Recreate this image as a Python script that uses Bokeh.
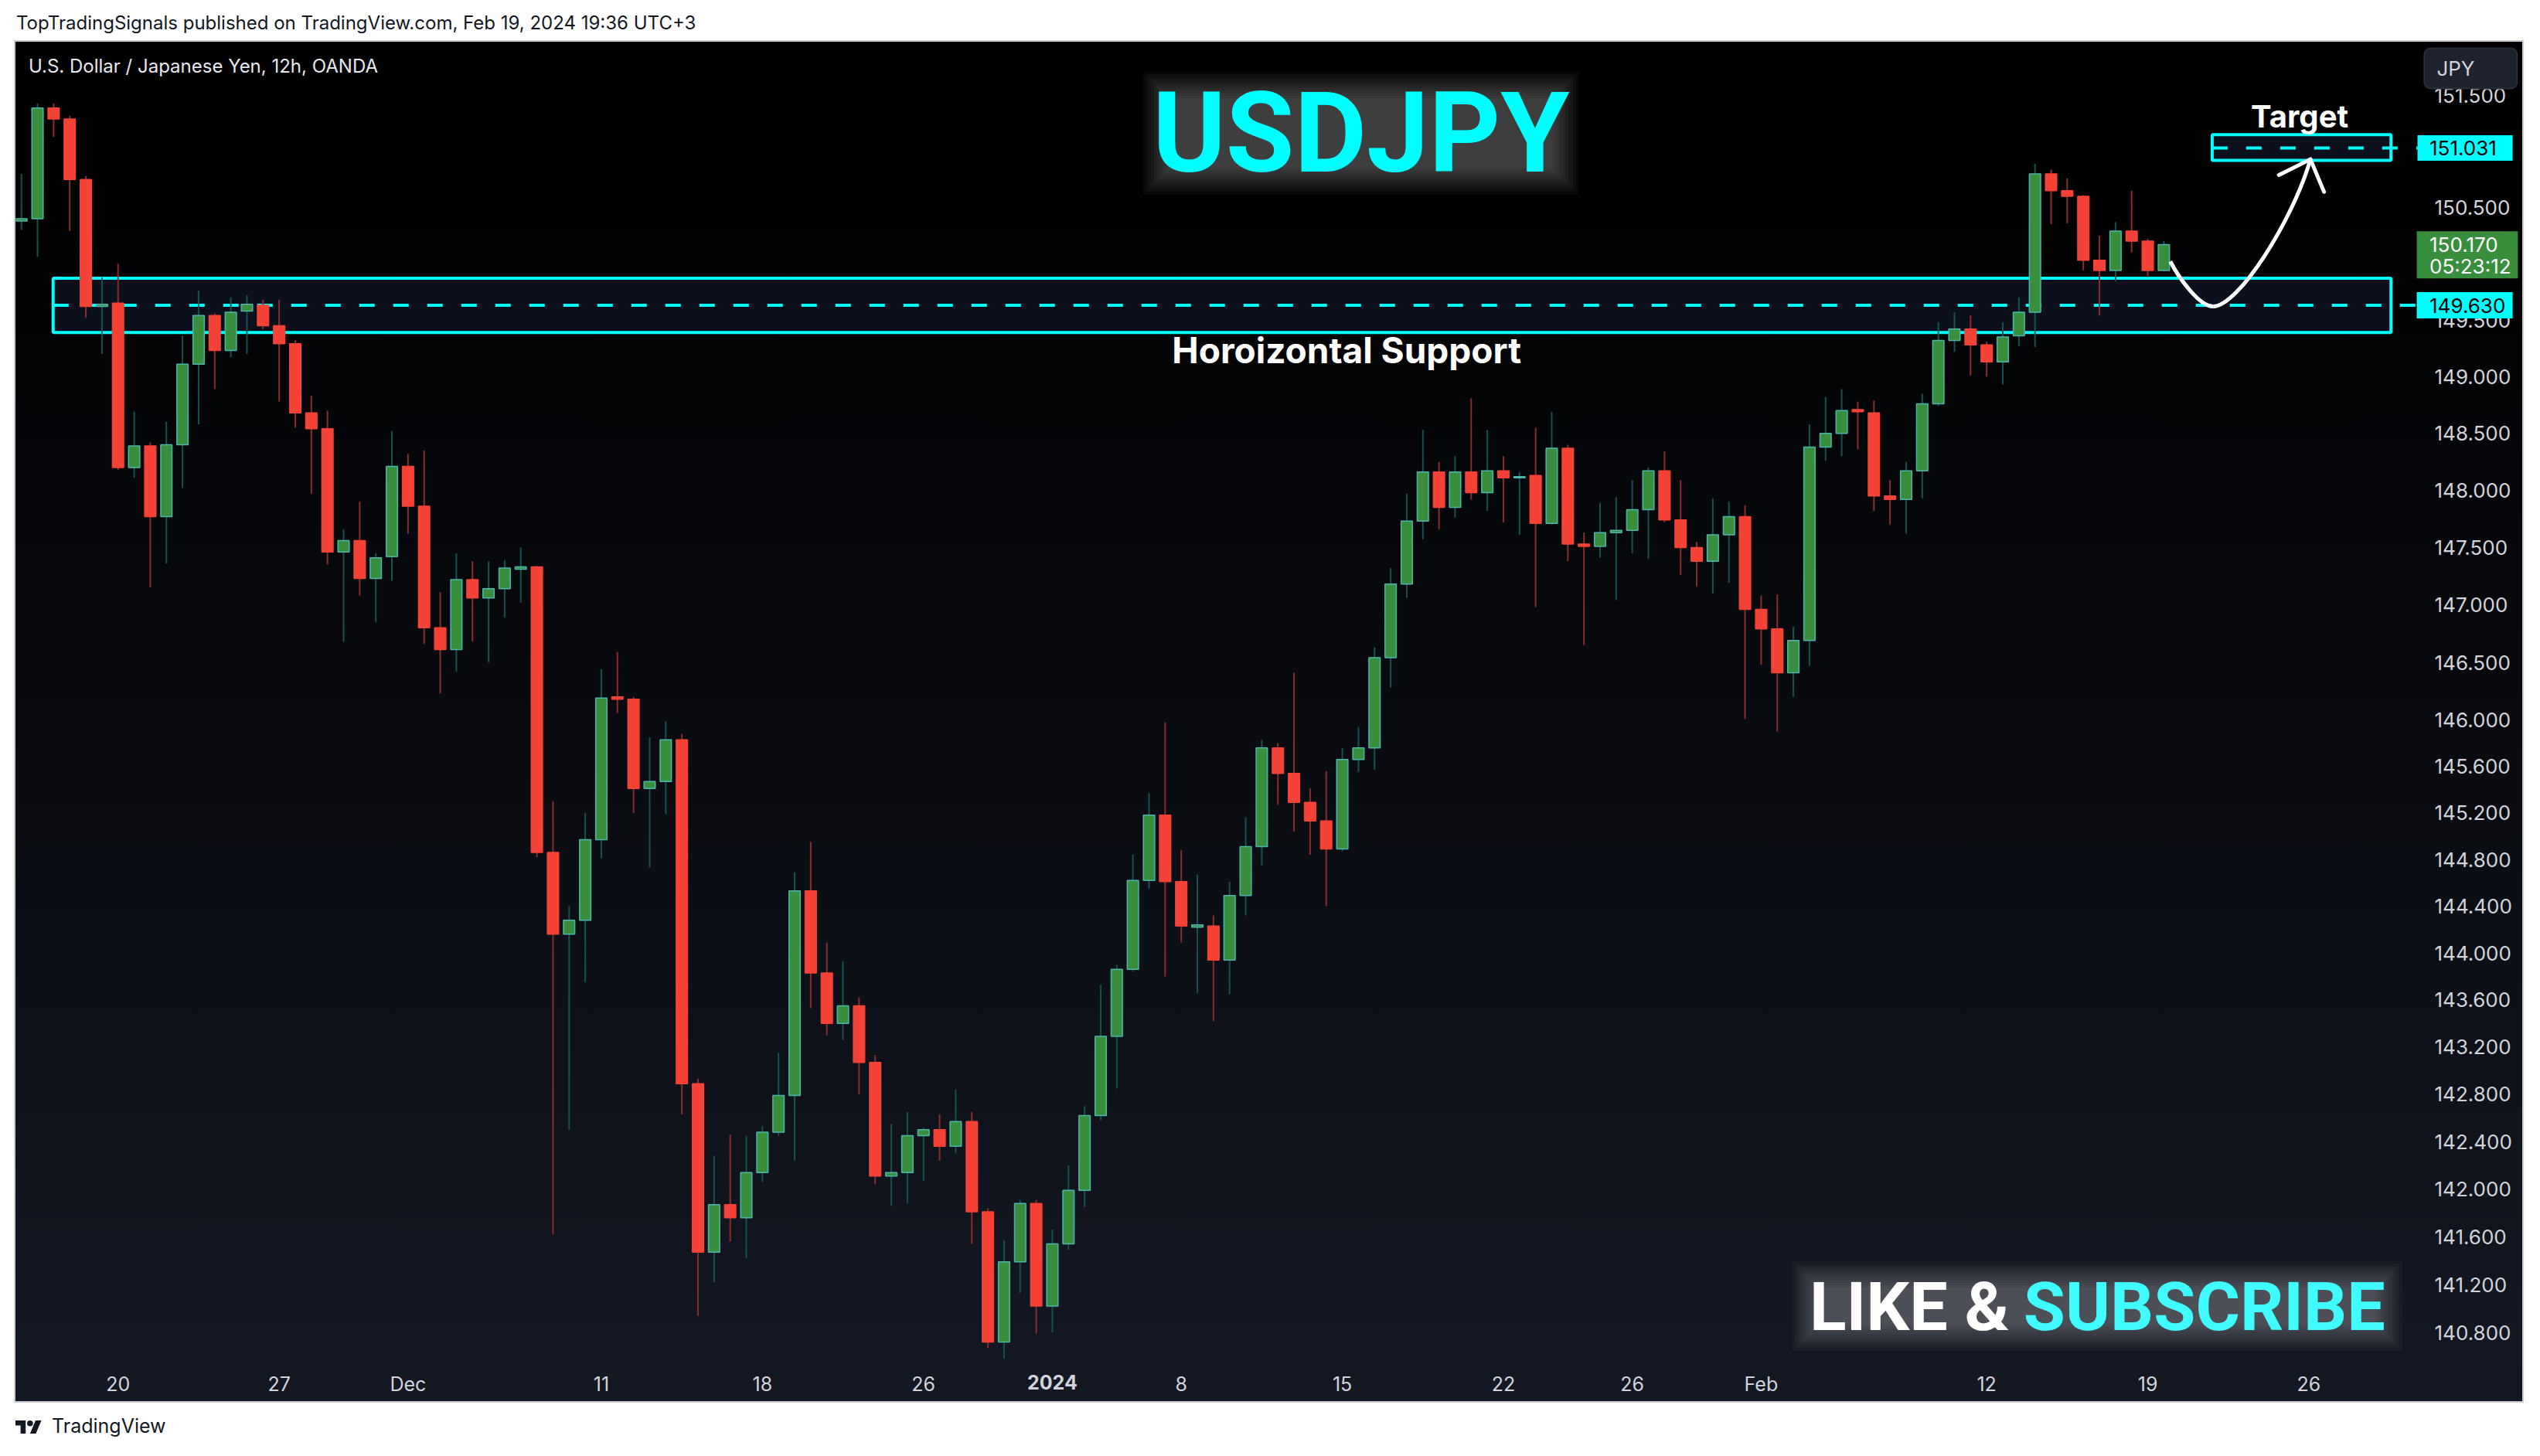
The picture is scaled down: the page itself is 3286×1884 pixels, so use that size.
import math
from bokeh.plotting import figure
from bokeh.models import Range1d, FixedTicker, PrintfTickFormatter, Div, ColumnDataSource
from bokeh.layouts import column
from bokeh.embed import file_html
from bokeh.resources import INLINE
from bokeh.core.properties import value

# ---------------- data (USDJPY, 12h candles, OANDA) ----------------
opens = [150.38, 150.40, 151.39, 151.29, 150.75, 149.62, 149.65, 148.20, 148.39, 147.77,
         148.40, 149.11, 149.54, 149.23, 149.58, 149.63, 149.45, 149.29, 148.68, 148.54,
         147.46, 147.56, 147.23, 147.42, 148.21, 147.86, 146.80, 146.61, 147.22, 147.06,
         147.14, 147.31, 147.33, 144.86, 144.16, 144.28, 144.97, 146.20, 146.18, 145.41,
         145.47, 145.83, 142.89, 141.47, 141.87, 141.76, 142.14, 142.48, 142.79, 144.53,
         143.83, 143.40, 143.55, 143.07, 142.11, 142.14, 142.45, 142.50, 142.36, 142.57,
         141.81, 140.72, 141.39, 141.88, 141.02, 141.54, 141.99, 142.62, 143.29, 143.86,
         144.62, 145.18, 144.61, 144.22, 144.23, 143.94, 144.49, 144.91, 145.76, 145.54,
         145.29, 145.13, 144.89, 145.66, 145.76, 146.54, 147.18, 147.73, 148.16, 147.85,
         148.16, 147.98, 148.17, 148.11, 148.13, 147.71, 148.37, 147.53, 147.51, 147.63,
         147.65, 147.83, 148.17, 147.74, 147.50, 147.38, 147.61, 147.77, 146.96, 146.79,
         146.41, 146.69, 148.38, 148.50, 148.71, 148.68, 147.95, 147.92, 148.17, 148.76,
         149.32, 149.42, 149.28, 149.13, 149.36, 149.57, 150.80, 150.65, 150.60, 150.03,
         149.94, 150.29, 150.20, 149.94]
highs = [150.80, 151.43, 151.43, 151.32, 150.78, 149.88, 150.00, 148.69, 148.42, 148.60,
         149.36, 149.76, 149.56, 149.70, 149.72, 149.68, 149.68, 149.32, 148.83, 148.70,
         147.66, 147.90, 147.45, 148.52, 148.32, 148.35, 147.11, 147.45, 147.38, 147.38,
         147.39, 147.50, 147.34, 145.30, 144.40, 145.20, 146.44, 146.59, 146.20, 145.85,
         145.99, 145.88, 142.93, 142.28, 142.46, 142.45, 142.53, 143.15, 144.69, 144.95,
         144.09, 143.93, 143.62, 143.13, 142.55, 142.65, 142.52, 142.63, 142.84, 142.65,
         141.84, 141.57, 141.91, 141.91, 141.66, 142.20, 142.70, 143.73, 143.90, 144.84,
         145.37, 145.98, 144.88, 144.67, 144.32, 144.61, 145.16, 145.83, 145.80, 146.41,
         145.41, 145.56, 145.76, 145.94, 146.63, 147.32, 147.97, 148.53, 148.25, 148.30,
         148.81, 148.53, 148.30, 148.16, 148.55, 148.69, 148.40, 147.63, 147.89, 147.94,
         148.09, 148.20, 148.34, 148.09, 147.55, 147.93, 147.90, 147.87, 147.08, 147.09,
         146.81, 148.58, 148.82, 148.89, 148.78, 148.79, 148.09, 148.25, 148.85, 149.48,
         149.57, 149.54, 149.31, 149.48, 149.70, 150.89, 150.84, 150.76, 150.61, 150.25,
         150.37, 150.65, 150.22, 150.20]
lows = [150.30, 150.06, 151.13, 150.29, 149.52, 149.20, 148.18, 148.11, 147.15, 147.36,
        148.02, 148.58, 148.89, 149.17, 149.20, 149.42, 148.78, 148.55, 147.97, 147.35,
        146.68, 147.08, 146.85, 147.21, 147.62, 146.66, 146.23, 146.42, 146.68, 146.50,
        146.89, 147.02, 144.82, 141.62, 142.50, 143.75, 144.81, 146.06, 145.20, 144.73,
        145.19, 142.63, 140.94, 141.22, 141.56, 141.42, 142.06, 142.45, 142.24, 143.53,
        143.30, 143.26, 142.80, 142.04, 141.86, 141.88, 142.07, 142.24, 142.30, 141.54,
        140.67, 140.58, 141.13, 140.79, 140.80, 141.49, 141.85, 142.58, 142.85, 143.84,
        144.55, 143.80, 144.09, 143.66, 143.42, 143.65, 144.32, 144.75, 145.27, 145.04,
        144.84, 144.40, 144.87, 145.55, 145.57, 146.28, 147.06, 147.57, 147.66, 147.76,
        147.92, 147.82, 147.72, 147.61, 146.98, 147.70, 147.38, 146.65, 147.41, 147.04,
        147.45, 147.40, 147.72, 147.26, 147.16, 147.10, 147.19, 146.01, 146.48, 145.90,
        146.20, 146.47, 148.26, 148.30, 148.36, 147.82, 147.70, 147.62, 147.93, 148.74,
        149.22, 149.01, 149.00, 148.93, 149.27, 149.26, 150.35, 150.36, 149.94, 149.54,
        149.84, 150.10, 149.88, 149.93]
closes = [150.40, 151.39, 151.29, 150.75, 149.62, 149.64, 148.20, 148.39, 147.77, 148.40,
          149.11, 149.54, 149.23, 149.57, 149.64, 149.45, 149.29, 148.68, 148.54, 147.46,
          147.56, 147.23, 147.41, 148.21, 147.86, 146.80, 146.61, 147.22, 147.06, 147.14,
          147.32, 147.33, 144.86, 144.16, 144.28, 144.97, 146.19, 146.18, 145.41, 145.47,
          145.83, 142.89, 141.47, 141.87, 141.76, 142.14, 142.48, 142.79, 144.53, 143.83,
          143.40, 143.55, 143.07, 142.11, 142.14, 142.45, 142.50, 142.36, 142.57, 141.81,
          140.72, 141.39, 141.88, 141.02, 141.54, 141.99, 142.62, 143.29, 143.86, 144.62,
          145.18, 144.61, 144.23, 144.24, 143.94, 144.49, 144.91, 145.76, 145.54, 145.29,
          145.13, 144.89, 145.66, 145.76, 146.54, 147.18, 147.73, 148.16, 147.85, 148.16,
          147.98, 148.17, 148.11, 148.12, 147.71, 148.37, 147.53, 147.51, 147.63, 147.65,
          147.83, 148.17, 147.74, 147.50, 147.38, 147.61, 147.77, 146.96, 146.79, 146.41,
          146.69, 148.38, 148.50, 148.70, 148.69, 147.95, 147.92, 148.17, 148.76, 149.32,
          149.42, 149.28, 149.13, 149.35, 149.57, 150.80, 150.65, 150.60, 150.03, 149.94,
          150.29, 150.20, 149.94, 150.17]
candle_idx = list(range(len(opens)))

time_tick_idx = [6, 16, 24, 36, 46, 56, 64, 72, 82, 92, 100, 108, 122, 132, 142]
time_tick_labels = ["20", "27", "Dec", "11", "18", "26", "2024", "8", "15", "22",
                    "26", "Feb", "12", "19", "26"]
price_ticks = [140.8, 141.2, 141.6, 142.0, 142.4, 142.8, 143.2, 143.6, 144.0, 144.4,
               144.8, 145.2, 145.6, 146.0, 146.5, 147.0, 147.5, 148.0, 148.5, 149.0,
               149.5, 150.5, 151.5]

support_level = 149.630
support_band = [149.39, 149.87]
support_span = [1.97, 147.1]
target_level = 151.031
target_band = [150.92, 151.15]
target_span = [136.0, 147.1]
last_price = 150.170
countdown = "05:23:12"

# ---------------- styles / geometry ----------------
CYAN = "#00ffff"
UP_FILL, UP_LINE, UP_WICK = "#388e3c", "#4db6ac", "#14534e"
DN_FILL, DN_LINE, DN_WICK = "#f44336", "#f44336", "#8a2d2d"
AXIS_TXT = "#d1d4dc"
FONT = "Inter"
W, H = 3243, 1759
X0, X1 = -0.3455, 155.27          # candle index range across the panel
Y0, Y1 = 140.225, 151.981         # price range (log scale)
AXIS_X = 148.65                   # where the price scale begins
AXIS_Y = 140.553                  # where the time scale begins
PX_PER_LN = H / math.log(Y1 / Y0)
PX_PER_BAR = W / (X1 - X0)


def shift(price, px):
    """price that sits px pixels above (negative: below) the given price"""
    return price * math.exp(px / PX_PER_LN)


p = figure(width=W, height=H, x_range=Range1d(X0, X1), y_range=Range1d(Y0, Y1),
           y_axis_type="log", y_axis_location="right",
           output_backend="svg", toolbar_location=None, min_border=0,
           background_fill_color=None, border_fill_color=None, outline_line_color=None,
           margin=(0, 0, 0, 20))
p.title.visible = False
p.styles = {"background": "linear-gradient(180deg, #000000 0%, #010102 12%, #141823 100%)",
            "outline": "2px solid #c9ccd3"}
p.xgrid.visible = False
p.ygrid.visible = False

ya = p.yaxis[0]
ya.ticker = FixedTicker(ticks=price_ticks)
ya.formatter = PrintfTickFormatter(format="%.3f")
ya.fixed_location = AXIS_X
xa = p.xaxis[0]
xa.ticker = FixedTicker(ticks=[t for t, lab in zip(time_tick_idx, time_tick_labels) if lab != "2024"])
xa.major_label_overrides = {t: lab for t, lab in zip(time_tick_idx, time_tick_labels) if lab != "2024"}
xa.fixed_location = AXIS_Y
for ax in (ya, xa):
    ax.axis_line_color = None
    ax.major_tick_line_color = None
    ax.minor_tick_line_color = None
    ax.major_label_text_color = AXIS_TXT
    ax.major_label_text_font = FONT
ya.major_label_text_font_size = "26px"
xa.major_label_text_font_size = "25px"
ya.major_label_standoff = 18
xa.major_label_standoff = 8


# soft glow behind the headline texts (stacked translucent boxes)
def glow(left, right, bottom, top, color, inset=8, steps=11, step_px=3.5, alpha=0.028):
    for k in range(steps):
        d = k * step_px - inset
        p.quad(left=[left - d / PX_PER_BAR], right=[right + d / PX_PER_BAR],
               bottom=[shift(bottom, -d)], top=[shift(top, d)],
               fill_color=color, fill_alpha=alpha, line_color=None)


glow(70.9, 95.4, 150.80, 151.53, "#ffffff")
glow(111.2, 146.5, 140.82, 141.22, "#ffffff")

# support zone & target zone
p.quad(left=[support_span[0]], right=[support_span[1]], bottom=[support_band[0]], top=[support_band[1]],
       fill_color="#0b101c", line_color=CYAN, line_width=4)
p.quad(left=[target_span[0]], right=[target_span[1]], bottom=[target_band[0]], top=[target_band[1]],
       fill_color="#0b101c", line_color=CYAN, line_width=4)
p.segment(x0=[support_span[0], target_span[0]], x1=[AXIS_X + 0.1, AXIS_X + 0.1],
          y0=[support_level, target_level], y1=[support_level, target_level],
          line_color=CYAN, line_width=4, line_dash="20 24")

# candles
up = [c >= o for o, c in zip(opens, closes)]
src = ColumnDataSource(dict(
    x=candle_idx, high=highs, low=lows,
    top=[max(o, c) for o, c in zip(opens, closes)],
    bottom=[min(o, c) for o, c in zip(opens, closes)],
    fill=[UP_FILL if u else DN_FILL for u in up],
    line=[UP_LINE if u else DN_LINE for u in up],
    wick=[UP_WICK if u else DN_WICK for u in up],
))
p.segment(x0="x", y0="low", x1="x", y1="high", line_color="wick", line_width=2, source=src)
p.vbar(x="x", width=0.70, top="top", bottom="bottom", fill_color="fill", line_color="line",
       line_width=1.5, source=src)

# projected path arrow
p.bezier(x0=[133.4, 136.06], y0=[150.02, 149.62], x1=[136.06, 142.1], y1=[149.62, 150.93],
         cx0=[133.9, 137.6], cy0=[149.88, 149.62], cx1=[135.2, 141.0], cy1=[149.62, 150.38],
         line_color="white", line_width=5)
p.segment(x0=[142.1, 142.1], y0=[150.93, 150.93], x1=[140.14, 142.94], y1=[150.79, 150.64],
          line_color="white", line_width=5, line_cap="round")


def txt(x, y, s, size, color, font=FONT, bold=False, align="left", level="glyph"):
    p.text(x=[x], y=[y], text=[s], text_font=value(font), text_font_size=size,
           text_font_style="bold" if bold else "normal", text_color=color,
           text_align=align, text_baseline="middle", level=level)


txt(0.446, 151.763, "U.S. Dollar / Japanese Yen, 12h, OANDA", "24px", "#e6e8ee")
txt(83.16, 151.164, "USDJPY", "144px", CYAN, font="Roboto", bold=True, align="center")
txt(82.27, 149.234, "Horoizontal Support", "46px", "white", bold=True, align="center")
txt(141.43, 151.317, "Target", "40px", "white", bold=True, align="center")
txt(111.0, 141.018, "LIKE &", "88px", "white", font="Roboto", bold=True)
txt(146.74, 141.018, "SUBSCRIBE", "88px", "#40fbff", font="Roboto", bold=True, align="right")


# price-scale tags (drawn above the scale labels)
def tag(center, half_px, left, right, fill, line=None, radius=0):
    kw = dict(left=[left], right=[right], bottom=[shift(center, -half_px)], top=[shift(center, half_px)],
              fill_color=fill, line_color=line, line_width=2, level="overlay")
    if radius:
        try:
            p.quad(border_radius=radius, **kw)
            return
        except Exception:
            pass
    p.quad(**kw)


tag(target_level, 16.5, 148.745, 154.65, CYAN)
tag(shift(last_price, -13.3), 30.5, 148.70, 154.98, UP_FILL)
tag(support_level, 17.0, 148.70, 154.65, CYAN)
tag(shift(Y1, -34), 26.0, 149.17, 154.93, "#1e222d", line="#2a2e39", radius=8)
txt(149.49, target_level, f"{target_level:.3f}", "26px", "#000000", level="overlay")
txt(149.49, last_price, f"{last_price:.3f}", "26px", "#ffffff", level="overlay")
txt(149.49, shift(last_price, -27.7), countdown, "26px", "#ffffff", level="overlay")
txt(149.49, support_level, f"{support_level:.3f}", "26px", "#000000", level="overlay")
txt(149.94, shift(Y1, -34), "JPY", "26px", AXIS_TXT, level="overlay")

# bold year label on the time scale
txt(64, shift(AXIS_Y, -26), "2024", "25px", AXIS_TXT, bold=True, align="center", level="overlay")

header = Div(text="TopTradingSignals published on TradingView.com, Feb 19, 2024 19:36 UTC+3",
             width=3270, height=54, margin=(0, 0, 0, 0),
             styles={"font-family": FONT, "font-size": "24px", "color": "#131722",
                     "padding-left": "21px", "line-height": "60px"})
logo = ('<svg width="34" height="17" viewBox="0 4 36 18">'
        '<path d="M14 22H7V11H0V4h14v18zM28 22h-8l7.5-18h8L28 22z" fill="#131722"/>'
        '<circle cx="20" cy="8" r="4" fill="#131722"/></svg>')
footer = Div(text=('<div style="display:flex;align-items:center;height:66px;gap:13px;">'
                   + logo + '<span style="font-family:Inter;font-size:25px;color:#131722;">'
                   'TradingView</span></div>'),
             width=3270, height=66, margin=(0, 0, 0, 20))

layout = column(header, p, footer, spacing=0)
open("out.html", "w").write(file_html(layout, INLINE))
